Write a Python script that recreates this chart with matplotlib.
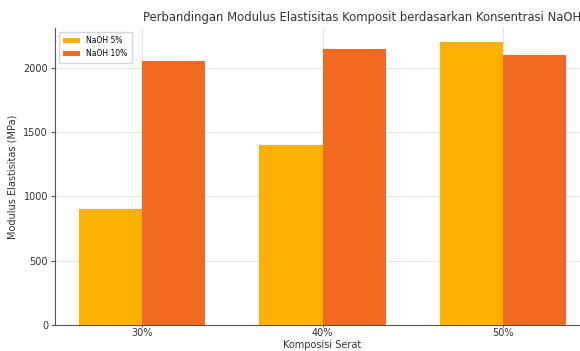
import numpy as np
import matplotlib
matplotlib.use('Agg')
import matplotlib.pyplot as plt

# -------------------------------------------------------------------------
# Data
# -------------------------------------------------------------------------
categories = ["30%", "40%", "50%"]
naoh_5 = [900, 1400, 2200]
naoh_10 = [2050, 2150, 2100]

W, H = 580, 351
fig = plt.figure(figsize=(W / 100, H / 100), dpi=100)
# axes extends slightly past the right edge, as in the reference
ax = fig.add_axes([55 / W, 1 - 325 / H, (590 - 55) / W, (325 - 28) / H])

x = np.arange(len(categories))
width = 0.35
ax.bar(x - width / 2, naoh_5, width, color="#FDB000", label="NaOH 5%", zorder=3)
ax.bar(x + width / 2, naoh_10, width, color="#F26A22", label="NaOH 10%", zorder=3)

ax.set_xticks(x)
ax.set_xticklabels(categories)
ax.set_yticks([0, 500, 1000, 1500, 2000])
ax.tick_params(labelsize=7, colors="#333333", length=3, width=0.6, pad=2)
ax.tick_params(axis="x", length=1.5, pad=1)
ax.set_xlabel("Komposisi Serat", fontsize=7, color="#333333", va="top")
ax.xaxis.set_label_coords(0.5, -0.052)
ax.set_ylabel("Modulus Elastisitas (MPa)", fontsize=7, color="#333333", labelpad=4)

ax.grid(True, color="#e4e4e4", linewidth=0.7, linestyle="-", zorder=0)
for side in ["top", "right"]:
    ax.spines[side].set_visible(False)
for side in ["left", "bottom"]:
    ax.spines[side].set_color("#555555")
    ax.spines[side].set_linewidth(0.8)

fig.text(362 / W, 1 - 18 / H,
         "Perbandingan Modulus Elastisitas Komposit berdasarkan Konsentrasi NaOH",
         ha="center", va="center", fontsize=8.4, color="#333333")

ax.legend(loc="upper left", fontsize=5.5, frameon=True, edgecolor="#cccccc",
          handlelength=2.2, borderpad=0.6, labelspacing=0.5)

fig.savefig("out.png", dpi=100)
